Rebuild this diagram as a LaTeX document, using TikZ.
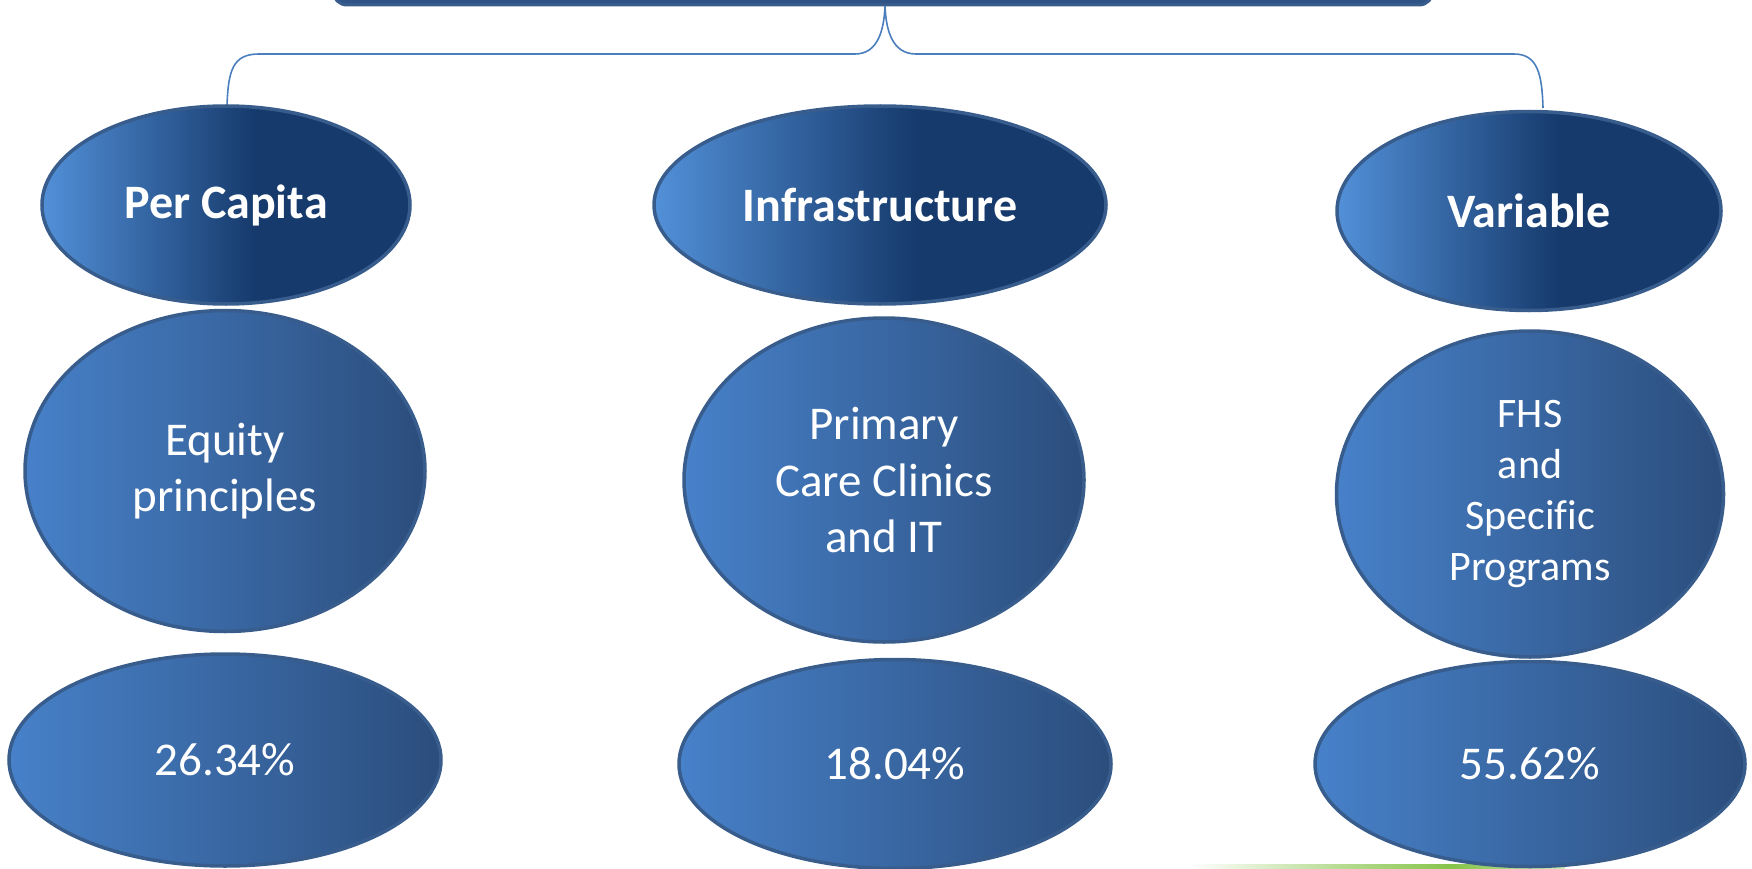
\documentclass[tikz,border=0pt]{standalone}
\usepackage{fontspec}
\setmainfont{Carlito}[Ligatures={NoCommon}]
\usetikzlibrary{shapes.geometric}
\definecolor{lightA}{HTML}{5290D8}
\definecolor{darkA}{HTML}{163A6C}
\definecolor{lightB}{HTML}{4781C9}
\definecolor{darkB}{HTML}{2B4D7C}
\definecolor{rimc}{HTML}{385D8C}
\definecolor{bracec}{HTML}{4A7EBD}
\definecolor{topfill}{HTML}{2E5486}
\definecolor{greenc}{HTML}{86C44A}
\pgfdeclarehorizontalshading{headshade}{100bp}{color(0bp)=(lightA); color(25bp)=(lightA); color(54bp)=(darkA); color(100bp)=(darkA)}
\pgfdeclarehorizontalshading{bodyshade}{100bp}{color(0bp)=(lightB); color(25bp)=(lightB); color(75bp)=(darkB); color(100bp)=(darkB)}
\pgfdeclarehorizontalshading{greenshade}{100bp}{color(0bp)=(white); color(25bp)=(white); color(45bp)=(greenc!60); color(60bp)=(greenc); color(75bp)=(greenc!40); color(100bp)=(white)}
\tikzset{
  head/.style={ellipse, draw=rimc, line width=3.5pt, shading=headshade, inner sep=0pt,
    text=white, font=\fontsize{48}{56}\selectfont\bfseries, align=center},
  body/.style={ellipse, draw=rimc, line width=3.5pt, shading=bodyshade, inner sep=0pt,
    text=white, font=\fontsize{47}{56}\selectfont, align=center},
  bracel/.style={draw=bracec, line width=1.6pt}
}
\begin{document}
\begin{tikzpicture}[x=1pt,y=-1pt]
\useasboundingbox (0,0) rectangle (1752,869);
% faint green line at bottom right
\shade[shading=greenshade] (1190,864) rectangle (1565,869);
% top box (only its bottom edge shows)
\begin{scope}
\clip (0,0) rectangle (1752,869);
\draw[fill=topfill, draw=rimc, line width=3pt, rounded corners=14pt] (333,-80) rectangle (1433,5);
\end{scope}
\coordinate (tip) at (885,6);
\coordinate (lend) at (227,107);
\coordinate (rend) at (1543,108);
% brace
\draw[bracel] (lend) .. controls (228,70) and (233,54) .. (259,54) -- (855,54)
  .. controls (878,54) and (884,30) .. (tip);
\draw[bracel] (tip) .. controls (886,30) and (892,54) .. (916,54) -- (1514,54)
  .. controls (1538,54) and (1542,75) .. (rend);
% row 1
\node[head, minimum width=368pt, minimum height=198pt] (pc) at (226,205) {Per Capita};
\node[head, minimum width=452pt, minimum height=198pt] (inf) at (880,205) {Infrastructure};
\node[head, minimum width=384pt, minimum height=199pt] (var) at (1529,211) {Variable};
% row 2
\node[body, minimum width=400pt, minimum height=321pt] (eq) at (225,471) {Equity\\principles};
\node[body, minimum width=400pt, minimum height=324pt] (pcc) at (884,480) {Primary\\Care Clinics\\and IT};
\node[body, minimum width=387pt, minimum height=326pt, font=\fontsize{42}{51}\selectfont] (fhs) at (1530,494) {FHS\\and\\Specif\kern0pt ic\\Programs};
% row 3
\node[body, minimum width=432pt, minimum height=212pt] (p1) at (225,760) {26.34\%};
\node[body, minimum width=432pt, minimum height=209pt] (p2) at (895,764) {18.04\%};
\node[body, minimum width=430pt, minimum height=205pt] (p3) at (1530,764) {55.62\%};
\end{tikzpicture}
\end{document}
